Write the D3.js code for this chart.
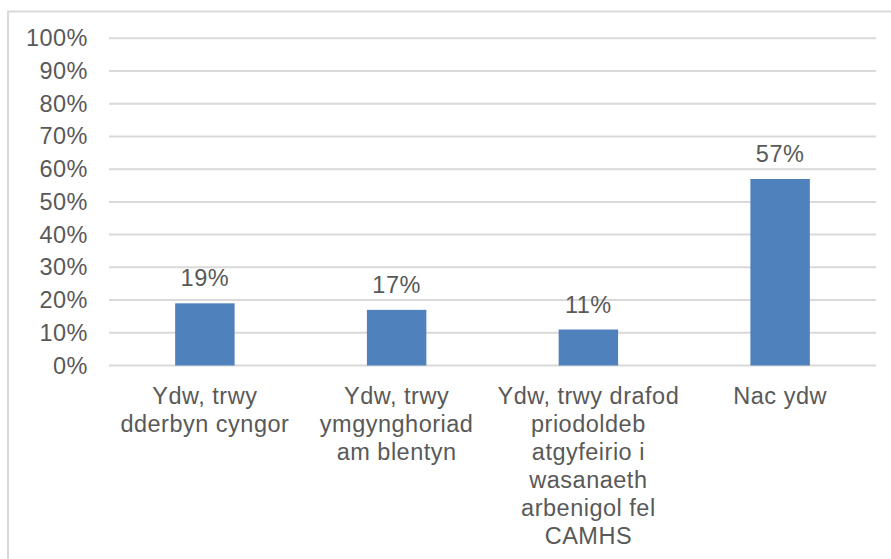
<!DOCTYPE html>
<html>
<head>
<meta charset="utf-8">
<script src="https://cdn.jsdelivr.net/npm/d3@7"></script>
<style>
  html, body { margin: 0; padding: 0; background: #fff; }
  svg { display: block; font-family: "Liberation Sans", Arial, sans-serif; letter-spacing: 0.5px; }
</style>
</head>
<body>
<svg id="chart" width="891" height="559"></svg>
<script>
// Survey answers and their shares (percent)
const categories = [
  "Ydw, trwy dderbyn cyngor",
  "Ydw, trwy ymgynghoriad am blentyn",
  "Ydw, trwy drafod priodoldeb atgyfeirio i wasanaeth arbenigol fel CAMHS",
  "Nac ydw"
];
const values = [19, 17, 11, 57];
const yTicks = [0, 10, 20, 30, 40, 50, 60, 70, 80, 90, 100];

const svg = d3.select("#chart");
const W = 891, H = 559;
const textColor = "#595959";
const gridColor = "#D9D9D9";
const barColor = "#4F81BD";
const fontSize = 23.5;

// Chart frame
svg.append("rect")
  .attr("x", 8).attr("y", 11.5)
  .attr("width", W + 10).attr("height", H + 10)
  .attr("fill", "#fff")
  .attr("stroke", gridColor).attr("stroke-width", 2);

const plot = { left: 109, right: 876, top: 38.3, bottom: 365.5 };

const x = d3.scaleBand()
  .domain(categories)
  .range([plot.left, plot.right])
  .padding(0);

const y = d3.scaleLinear()
  .domain([0, 100])
  .range([plot.bottom, plot.top]);

// Horizontal gridlines
svg.append("g")
  .selectAll("line")
  .data(yTicks)
  .join("line")
  .attr("x1", plot.left).attr("x2", plot.right)
  .attr("y1", d => y(d)).attr("y2", d => y(d))
  .attr("stroke", gridColor).attr("stroke-width", 2);

// Y axis labels
const yAxis = d3.axisLeft(y)
  .tickValues(yTicks)
  .tickFormat(d => d + "%")
  .tickSize(0)
  .tickPadding(21);
const yg = svg.append("g")
  .attr("transform", `translate(${plot.left},0)`)
  .call(yAxis);
yg.select(".domain").remove();
yg.selectAll("text")
  .attr("fill", textColor)
  .style("font-size", fontSize + "px")
  .style("font-family", "'Liberation Sans', Arial, sans-serif");

// Bars
const barFrac = 0.31;
const barW = x.bandwidth() * barFrac;
svg.append("g")
  .selectAll("rect")
  .data(categories)
  .join("rect")
  .attr("x", d => x(d) + (x.bandwidth() - barW) / 2)
  .attr("y", (d, i) => y(values[i]))
  .attr("width", barW)
  .attr("height", (d, i) => y(0) - y(values[i]))
  .attr("fill", barColor);

// Value labels
svg.append("g")
  .selectAll("text")
  .data(categories)
  .join("text")
  .attr("x", d => x(d) + x.bandwidth() / 2)
  .attr("y", (d, i) => y(values[i]) - 17)
  .attr("text-anchor", "middle")
  .attr("fill", textColor)
  .style("font-size", fontSize + "px")
  .text((d, i) => values[i] + "%");

// Category labels, wrapped to fit beneath each bar
const maxLabelWidth = 188;
const lineHeight = 28;
const firstBaseline = 403.5;
const catG = svg.append("g");
categories.forEach(cat => {
  const cx = x(cat) + x.bandwidth() / 2;
  const t = catG.append("text")
    .attr("x", cx)
    .attr("y", firstBaseline)
    .attr("text-anchor", "middle")
    .attr("fill", textColor)
    .style("font-size", fontSize + "px");
  const words = cat.split(/\s+/);
  let line = [];
  let lineNo = 0;
  let tspan = t.append("tspan").attr("x", cx).attr("y", firstBaseline);
  words.forEach(w => {
    line.push(w);
    tspan.text(line.join(" "));
    if (tspan.node().getComputedTextLength() > maxLabelWidth && line.length > 1) {
      line.pop();
      tspan.text(line.join(" "));
      line = [w];
      lineNo++;
      tspan = t.append("tspan")
        .attr("x", cx)
        .attr("y", firstBaseline + lineNo * lineHeight)
        .text(w);
    }
  });
});
</script>
</body>
</html>
